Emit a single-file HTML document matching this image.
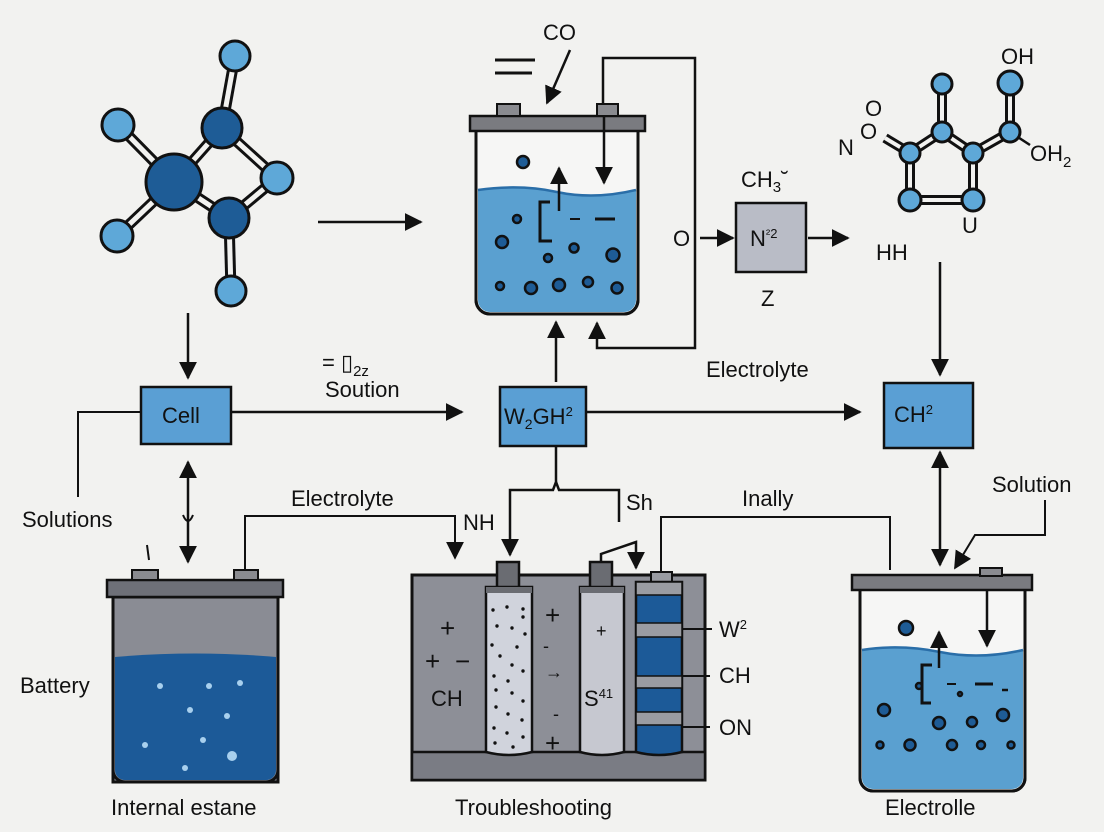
<!DOCTYPE html>
<html><head><meta charset="utf-8"><style>
html,body{margin:0;padding:0;background:#f2f2f0;}
svg{display:block;font-family:"Liberation Sans",sans-serif;}
</style></head><body>
<svg width="1104" height="832" viewBox="0 0 1104 832" xmlns="http://www.w3.org/2000/svg">
<defs>
<marker id="A" viewBox="0 0 10 10" refX="9" refY="5" markerWidth="18" markerHeight="18" orient="auto-start-reverse" markerUnits="userSpaceOnUse"><path d="M0,0 L10,5 L0,10 z" fill="#111"/></marker>
</defs>
<rect width="1104" height="832" fill="#f2f2f0"/>
<g stroke="#111" stroke-width="2" fill="none">
<g stroke-width="11" stroke="#111"><line x1="235" y1="56" x2="222" y2="128"/><line x1="222" y1="128" x2="174" y2="182"/><line x1="118" y1="125" x2="174" y2="182"/><line x1="117" y1="236" x2="174" y2="182"/><line x1="174" y1="182" x2="229" y2="218"/><line x1="222" y1="128" x2="277" y2="178"/><line x1="277" y1="178" x2="229" y2="218"/><line x1="229" y1="218" x2="231" y2="291"/></g>
<g stroke-width="5" stroke="#f2f2f0"><line x1="235" y1="56" x2="222" y2="128"/><line x1="222" y1="128" x2="174" y2="182"/><line x1="118" y1="125" x2="174" y2="182"/><line x1="117" y1="236" x2="174" y2="182"/><line x1="174" y1="182" x2="229" y2="218"/><line x1="222" y1="128" x2="277" y2="178"/><line x1="277" y1="178" x2="229" y2="218"/><line x1="229" y1="218" x2="231" y2="291"/></g>
<g stroke-width="3"><circle cx="235" cy="56" r="15" fill="#5ea8d8"/><circle cx="118" cy="125" r="16" fill="#5ea8d8"/><circle cx="117" cy="236" r="16" fill="#5ea8d8"/><circle cx="277" cy="178" r="16" fill="#5ea8d8"/><circle cx="231" cy="291" r="15" fill="#5ea8d8"/><circle cx="222" cy="128" r="20" fill="#1e5c96"/><circle cx="229" cy="218" r="20" fill="#1e5c96"/><circle cx="174" cy="182" r="28" fill="#1e5c96"/></g>
<g stroke-width="10"><line x1="942" y1="84" x2="942" y2="132"/><line x1="942" y1="132" x2="910" y2="153"/><line x1="942" y1="132" x2="973" y2="153"/><line x1="910" y1="153" x2="910" y2="200"/><line x1="973" y1="153" x2="973" y2="200"/><line x1="910" y1="200" x2="973" y2="200"/><line x1="973" y1="153" x2="1010" y2="132"/><line x1="1010" y1="83" x2="1010" y2="132"/><line x1="910" y1="153" x2="885" y2="138"/></g>
<g stroke-width="4" stroke="#f2f2f0"><line x1="942" y1="84" x2="942" y2="132"/><line x1="942" y1="132" x2="910" y2="153"/><line x1="942" y1="132" x2="973" y2="153"/><line x1="910" y1="153" x2="910" y2="200"/><line x1="973" y1="153" x2="973" y2="200"/><line x1="910" y1="200" x2="973" y2="200"/><line x1="973" y1="153" x2="1010" y2="132"/><line x1="1010" y1="83" x2="1010" y2="132"/><line x1="910" y1="153" x2="885" y2="138"/></g>
<line x1="1010" y1="132" x2="1030" y2="145" stroke-width="2.5"/>
<g stroke-width="3" fill="#5ea8d8"><circle cx="942" cy="84" r="10"/><circle cx="942" cy="132" r="10"/><circle cx="910" cy="153" r="10"/><circle cx="973" cy="153" r="10"/><circle cx="910" cy="200" r="11"/><circle cx="973" cy="200" r="11"/><circle cx="1010" cy="83" r="12"/><circle cx="1010" cy="132" r="10"/></g>

<path d="M476,131 V300 a14,14 0 0 0 14,14 H624 a14,14 0 0 0 14,-14 V131" fill="#f6f6f5" stroke-width="3"/>
<path d="M478,190 Q520,184 557,192 T636,190 V300 a12,12 0 0 1 -12,12 H490 a12,12 0 0 1 -12,-12 z" fill="#5aa0d0" stroke="none"/>
<path d="M478,190 Q520,184 557,192 T636,190" stroke="#2a6ea8" stroke-width="2.5"/>
<path d="M476,131 V300 a14,14 0 0 0 14,14 H624 a14,14 0 0 0 14,-14 V131" stroke-width="3"/>
<rect x="470" y="116" width="175" height="15" fill="#7a7b80" stroke-width="2.5"/>
<rect x="497" y="104" width="23" height="12" fill="#8a8b90" stroke-width="2"/>
<rect x="597" y="104" width="21" height="12" fill="#8a8b90" stroke-width="2"/>
<g fill="#1e5c96" stroke-width="2.5"><circle cx="523" cy="162" r="6"/><circle cx="517" cy="219" r="4"/><circle cx="502" cy="242" r="6"/><circle cx="548" cy="258" r="4"/><circle cx="574" cy="248" r="4.5"/><circle cx="613" cy="255" r="6.5"/><circle cx="500" cy="286" r="4"/><circle cx="531" cy="288" r="6"/><circle cx="559" cy="285" r="6"/><circle cx="588" cy="282" r="5"/><circle cx="617" cy="288" r="5.5"/></g>
<path d="M552,241 H540 V202 H550" stroke-width="3"/>
<line x1="559" y1="211" x2="559" y2="168" stroke-width="2.5" marker-end="url(#A)"/>
<line x1="604" y1="116" x2="604" y2="183" stroke-width="2.5" marker-end="url(#A)"/>
<line x1="595" y1="219" x2="615" y2="219" stroke-width="3"/>
<line x1="570" y1="219" x2="580" y2="219" stroke-width="2"/>
<path d="M603,104 V58 H695 V348 H597 V323" stroke-width="2.5" marker-end="url(#A)"/>
<line x1="495" y1="60" x2="535" y2="60" stroke-width="3"/><line x1="495" y1="73" x2="532" y2="73" stroke-width="3"/>
<line x1="570" y1="50" x2="547" y2="103" stroke-width="2.5" marker-end="url(#A)"/>
<line x1="556" y1="382" x2="556" y2="322" stroke-width="2.5" marker-end="url(#A)"/>

<line x1="318" y1="222" x2="421" y2="222" stroke-width="2.5" marker-end="url(#A)"/>
<line x1="700" y1="238" x2="733" y2="238" stroke-width="2.5" marker-end="url(#A)"/>
<rect x="736" y="203" width="70" height="69" fill="#b9bcc6" stroke-width="2.5"/>
<line x1="808" y1="238" x2="848" y2="238" stroke-width="2.5" marker-end="url(#A)"/>
<line x1="940" y1="262" x2="940" y2="375" stroke-width="2.5" marker-end="url(#A)"/>
<line x1="188" y1="313" x2="188" y2="378" stroke-width="2.5" marker-end="url(#A)"/>

<g fill="#5a9fd4" stroke-width="2.5"><rect x="141" y="387" width="90" height="57"/><rect x="500" y="387" width="86" height="59"/><rect x="884" y="383" width="89" height="65"/></g>
<line x1="231" y1="412" x2="462" y2="412" stroke-width="2.5" marker-end="url(#A)"/>
<line x1="586" y1="412" x2="860" y2="412" stroke-width="2.5" marker-end="url(#A)"/>
<path d="M78,497 V412 H141" stroke-width="2"/>
<line x1="188" y1="462" x2="188" y2="562" stroke-width="2.5" marker-start="url(#A)" marker-end="url(#A)"/>
<path d="M183,515 q5,12 10,0" stroke-width="2"/>
<line x1="940" y1="452" x2="940" y2="565" stroke-width="2.5" marker-start="url(#A)" marker-end="url(#A)"/>
<path d="M1045,500 V535 H975 L955,568" stroke-width="2" marker-end="url(#A)"/>
<path d="M245,570 V516 H455 V558" stroke-width="2" marker-end="url(#A)"/>
<path d="M556,446 V482 L553,490 H510 V555" stroke-width="2.5" marker-end="url(#A)"/>
<path d="M556,482 L559,490 H619 V522" stroke-width="2.5"/>
<path d="M601,562 V554 L636,542 V568" stroke-width="2.5" marker-end="url(#A)"/>
<path d="M661,572 V517 H890 V570" stroke-width="2"/>
<line x1="147" y1="545" x2="149" y2="560" stroke-width="2"/>

<rect x="113" y="597" width="165" height="185" fill="#8a8c94" stroke-width="3"/>
<path d="M115,657 Q195,650 276,657 V770 a10,10 0 0 1 -10,10 H125 a10,10 0 0 1 -10,-10 z" fill="#1c5a98" stroke="none"/>
<path d="M113,597 V770 a12,12 0 0 0 12,12 H266 a12,12 0 0 0 12,-12 V597" stroke-width="3"/>
<rect x="107" y="580" width="176" height="17" fill="#6e7078" stroke-width="2.5"/>
<rect x="132" y="570" width="26" height="10" fill="#8a8b90" stroke-width="2"/>
<rect x="234" y="570" width="24" height="10" fill="#8a8b90" stroke-width="2"/>
<g fill="#a8d0ee" stroke="none"><circle cx="160" cy="686" r="3"/><circle cx="209" cy="686" r="3"/><circle cx="240" cy="683" r="3"/><circle cx="190" cy="710" r="3"/><circle cx="227" cy="716" r="3"/><circle cx="145" cy="745" r="3"/><circle cx="203" cy="740" r="3"/><circle cx="232" cy="756" r="5"/><circle cx="185" cy="768" r="3"/></g>

<rect x="412" y="575" width="293" height="205" fill="#8d8f97" stroke-width="3"/>
<rect x="412" y="752" width="293" height="28" fill="#7a7c84" stroke-width="2.5"/>
<rect x="497" y="562" width="22" height="26" fill="#6a6c72" stroke-width="2.5"/>
<rect x="590" y="562" width="22" height="26" fill="#6a6c72" stroke-width="2.5"/>
<rect x="651" y="572" width="21" height="10" fill="#9a9ca2" stroke-width="2"/>
<path d="M486,587 H532 V752 q-23,6 -46,0 z" fill="#d0d3dc" stroke-width="2.5"/>
<rect x="486" y="587" width="46" height="6" fill="#6a6c72" stroke-width="0"/>
<path d="M580,587 H624 V752 q-22,6 -44,0 z" fill="#c6c8d0" stroke-width="2.5"/>
<rect x="580" y="587" width="44" height="6" fill="#6a6c72" stroke-width="0"/>
<path d="M636,582 H682 V752 q-23,6 -46,0 z" fill="#1c5a98" stroke-width="2.5"/>
<g fill="#9a9ca2" stroke-width="1.5"><rect x="636" y="582" width="46" height="13"/><rect x="636" y="623" width="46" height="14"/><rect x="636" y="676" width="46" height="12"/><rect x="636" y="712" width="46" height="13"/></g>
<line x1="682" y1="629" x2="712" y2="629" stroke-width="2"/><line x1="682" y1="676" x2="710" y2="676" stroke-width="2"/><line x1="682" y1="727" x2="710" y2="727" stroke-width="2"/>
<g fill="#111" stroke="none">
<circle cx="493" cy="610" r="1.7"/><circle cx="507" cy="607" r="1.7"/><circle cx="523" cy="609" r="1.7"/><circle cx="523" cy="617" r="1.7"/><circle cx="497" cy="626" r="1.7"/><circle cx="512" cy="628" r="1.7"/><circle cx="525" cy="634" r="1.7"/><circle cx="492" cy="645" r="1.7"/><circle cx="517" cy="647" r="1.7"/><circle cx="500" cy="656" r="1.7"/><circle cx="512" cy="665" r="1.7"/><circle cx="523" cy="671" r="1.7"/><circle cx="494" cy="676" r="1.7"/><circle cx="508" cy="681" r="1.7"/><circle cx="496" cy="690" r="1.7"/><circle cx="512" cy="693" r="1.7"/><circle cx="523" cy="701" r="1.7"/><circle cx="496" cy="707" r="1.7"/><circle cx="508" cy="714" r="1.7"/><circle cx="522" cy="720" r="1.7"/><circle cx="494" cy="728" r="1.7"/><circle cx="507" cy="733" r="1.7"/><circle cx="523" cy="737" r="1.7"/><circle cx="495" cy="743" r="1.7"/><circle cx="513" cy="747" r="1.7"/></g>

<path d="M860,590 V778 a13,13 0 0 0 13,13 H1012 a13,13 0 0 0 13,-13 V590" fill="#f6f6f5" stroke-width="3"/>
<path d="M862,650 Q900,644 940,652 T1023,650 V778 a11,11 0 0 1 -11,11 H873 a11,11 0 0 1 -11,-11 z" fill="#5aa0d0" stroke="none"/>
<path d="M862,650 Q900,644 940,652 T1023,650" stroke="#2a6ea8" stroke-width="2.5"/>
<path d="M860,590 V778 a13,13 0 0 0 13,13 H1012 a13,13 0 0 0 13,-13 V590" stroke-width="3"/>
<rect x="852" y="575" width="180" height="15" fill="#7a7b80" stroke-width="2.5"/>
<rect x="980" y="568" width="22" height="8" fill="#8a8b90" stroke-width="2"/>
<g fill="#1e5c96" stroke-width="2.5"><circle cx="906" cy="628" r="7"/><circle cx="884" cy="710" r="6"/><circle cx="919" cy="686" r="3"/><circle cx="939" cy="723" r="6"/><circle cx="972" cy="722" r="5"/><circle cx="1003" cy="715" r="6"/><circle cx="880" cy="745" r="3.5"/><circle cx="910" cy="745" r="5.5"/><circle cx="952" cy="745" r="5"/><circle cx="981" cy="745" r="4"/><circle cx="1011" cy="745" r="3.5"/><circle cx="960" cy="694" r="2"/></g>
<path d="M931,703 H922 V665 H932" stroke-width="3"/>
<line x1="939" y1="668" x2="939" y2="632" stroke-width="2.5" marker-end="url(#A)"/>
<line x1="987" y1="590" x2="987" y2="646" stroke-width="2.5" marker-end="url(#A)"/>
<line x1="975" y1="684" x2="993" y2="684" stroke-width="3"/>
<line x1="947" y1="684" x2="956" y2="684" stroke-width="2"/>
<line x1="1002" y1="690" x2="1008" y2="690" stroke-width="2.5"/>
</g>

<g fill="#111" font-size="22">
<text x="543" y="40">CO</text>
<text x="673" y="246">O</text>
<text x="741" y="187">CH<tspan font-size="15" dy="5">3</tspan><tspan dy="-5">˘</tspan></text>
<text x="750" y="246">N<tspan font-size="13" dy="-8">²2</tspan></text>
<text x="761" y="306">Z</text>
<text x="876" y="260">HH</text>
<text x="1001" y="64">OH</text>
<text x="1030" y="161">OH<tspan font-size="15" dy="6">2</tspan></text>
<text x="865" y="116">O</text>
<text x="860" y="139">O</text>
<text x="838" y="155">N</text>
<text x="962" y="233">U</text>
<text x="706" y="377">Electrolyte</text>
<text x="322" y="370">= ▯<tspan font-size="15" dy="6">2z</tspan></text>
<text x="325" y="397">Soution</text>
<text x="162" y="423">Cell</text>
<text x="504" y="424">W<tspan font-size="14" dy="5">2</tspan><tspan dy="-5">GH</tspan><tspan font-size="13" dy="-8">2</tspan></text>
<text x="894" y="422">CH<tspan font-size="13" dy="-8">2</tspan></text>
<text x="22" y="527">Solutions</text>
<text x="291" y="506">Electrolyte</text>
<text x="463" y="530">NH</text>
<text x="626" y="510">Sh</text>
<text x="742" y="506">Inally</text>
<text x="992" y="492">Solution</text>
<text x="20" y="693">Battery</text>
<text x="719" y="637">W<tspan font-size="13" dy="-8">2</tspan></text>
<text x="719" y="683">CH</text>
<text x="719" y="735">ON</text>
<text x="431" y="706">CH</text>
<text x="584" y="706">S<tspan font-size="13" dy="-8">41</tspan></text>
<text x="111" y="815">Internal estane</text>
<text x="455" y="815">Troubleshooting</text>
<text x="885" y="815">Electrolle</text>
<g font-size="26"><text x="440" y="637">+</text><text x="425" y="670">+</text><text x="455" y="670">−</text><text x="545" y="624">+</text><text x="545" y="752">+</text></g>
<g font-size="18"><text x="596" y="637">+</text><text x="543" y="652">-</text><text x="545" y="678">→</text><text x="553" y="720">-</text></g>
</g>
</svg>
</body></html>
